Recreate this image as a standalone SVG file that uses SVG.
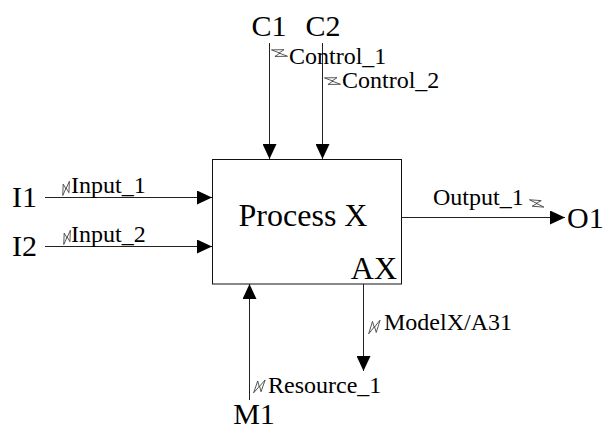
<svg xmlns="http://www.w3.org/2000/svg" width="612" height="431" viewBox="0 0 612 431">
  <style>
    .arrow { stroke: #222; stroke-width: 1; fill: none; }
    .box { stroke: #111; stroke-width: 1; fill: #fff; }
    .term { font-size: 30px; }
    .title { font-size: 32px; }
    .lbl { font-size: 24px; }
    .sq { stroke: #444; stroke-width: 0.9; fill: none; vector-effect: non-scaling-stroke; stroke-linejoin: round; }
  </style>
  <defs>
    <marker id="head" viewBox="0 0 15 14" refX="15" refY="7" markerWidth="15" markerHeight="14" markerUnits="userSpaceOnUse" orient="auto">
      <path d="M0,0 L15,7 L0,14 Z" fill="#000"/>
    </marker>
    <!-- squiggle tick linking a label to its arrow: hollow lightning bolt along +x over 10 units -->
    <path id="squiggle" class="sq" d="M0,0.6 L6.2,-3.4 L4.8,-0.2 L10,-1.2 L3.8,2.8 L5.2,-0.4 Z"/>
  </defs>

  <g id="activity" font-family="'Liberation Serif', 'Times New Roman', Times, serif">
    <rect class="box" x="212.5" y="159.5" width="189" height="124.5"/>
    <text class="title" x="303" y="226" text-anchor="middle">Process X</text>
    <text class="title" x="397" y="279" text-anchor="end">AX</text>
  </g>

  <g id="connectors">
    <line class="arrow" x1="269.5" y1="43" x2="269.5" y2="159" marker-end="url(#head)"/>
    <line class="arrow" x1="322.5" y1="43" x2="322.5" y2="159" marker-end="url(#head)"/>
    <line class="arrow" x1="45" y1="197.5" x2="212" y2="197.5" marker-end="url(#head)"/>
    <line class="arrow" x1="45" y1="246.5" x2="212" y2="246.5" marker-end="url(#head)"/>
    <line class="arrow" x1="402" y1="217.5" x2="565" y2="217.5" marker-end="url(#head)"/>
    <line class="arrow" x1="249.5" y1="400" x2="249.5" y2="284" marker-end="url(#head)"/>
    <line class="arrow" x1="363.5" y1="284" x2="363.5" y2="371" marker-end="url(#head)"/>
  </g>

  <g id="C1" font-family="'Liberation Serif', 'Times New Roman', Times, serif">
    <text class="term" x="269" y="36" text-anchor="middle">C1</text>
    <use href="#squiggle" transform="translate(272,49) rotate(32) scale(1.7)"/>
    <text class="lbl" x="289" y="64">Control_1</text>
  </g>
  <g id="C2" font-family="'Liberation Serif', 'Times New Roman', Times, serif">
    <text class="term" x="323" y="36" text-anchor="middle">C2</text>
    <use href="#squiggle" transform="translate(325,77) rotate(32) scale(1.7)"/>
    <text class="lbl" x="342" y="88">Control_2</text>
  </g>
  <g id="I1" font-family="'Liberation Serif', 'Times New Roman', Times, serif">
    <text class="term" x="12" y="207">I1</text>
    <use href="#squiggle" transform="translate(62,195) rotate(-55) scale(1.55)"/>
    <text class="lbl" x="71" y="193">Input_1</text>
  </g>
  <g id="I2" font-family="'Liberation Serif', 'Times New Roman', Times, serif">
    <text class="term" x="12" y="256">I2</text>
    <use href="#squiggle" transform="translate(63,244) rotate(-55) scale(1.55)"/>
    <text class="lbl" x="71" y="242">Input_2</text>
  </g>
  <g id="O1" font-family="'Liberation Serif', 'Times New Roman', Times, serif">
    <text class="lbl" x="433" y="205">Output_1</text>
    <use href="#squiggle" transform="translate(530,199) rotate(37) scale(1.6)"/>
    <text class="term" x="567" y="228">O1</text>
  </g>
  <g id="mechanism" font-family="'Liberation Serif', 'Times New Roman', Times, serif">
    <use href="#squiggle" transform="translate(368,333) rotate(-40) scale(1.75)"/>
    <text class="lbl" x="384" y="330">ModelX/A31</text>
  </g>
  <g id="M1" font-family="'Liberation Serif', 'Times New Roman', Times, serif">
    <use href="#squiggle" transform="translate(253,392) rotate(-38) scale(1.7)"/>
    <text class="lbl" x="268" y="393">Resource_1</text>
    <text class="term" x="254" y="424" text-anchor="middle">M1</text>
  </g>
</svg>
